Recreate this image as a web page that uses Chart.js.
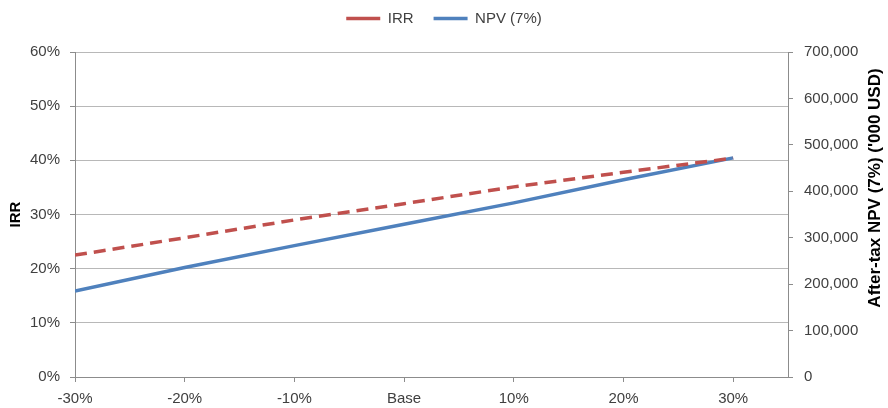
<!DOCTYPE html>
<html>
<head>
<meta charset="utf-8">
<script src="https://cdn.jsdelivr.net/npm/chart.js@4/dist/chart.umd.min.js"></script>
<style>
  html, body { margin: 0; padding: 0; background: #fff; }
  #wrap { width: 888px; height: 408px; }
</style>
</head>
<body>
<div id="wrap"><canvas id="chart" width="888" height="408"></canvas></div>
<script>
// sensitivity steps (percent change from base case)
const sensitivity = [-30, -20, -10, 0, 10, 20, 30];
// IRR in percent
const irrValues = [22.5, 25.7, 29.0, 32.0, 35.1, 37.8, 40.4];
// after-tax NPV at 7%, '000 USD
const npvValues = [185000, 236000, 283000, 329000, 375000, 425000, 472000];

const rightTitle = "After-tax NPV (7%) ('000 USD)";

const textColor = "#404040";
const axisColor = "#8c8c8c";
const gridColor = "#b8b8b8";
const fontFamily = "'Liberation Sans', Arial, sans-serif";
const font = { family: fontFamily, size: 15 };
const titleFont = { family: fontFamily, size: 15, weight: "bold" };

// fixed legend box height so the plot area starts where the reference's does
const legendHeight = {
  id: "legendHeight",
  beforeInit(chart) {
    const fit = chart.legend.fit;
    chart.legend.fit = function () {
      fit.bind(chart.legend)();
      this.height = 61;
    };
  },
};

// right axis title reads bottom-to-top like Excel, so draw it ourselves
const rightAxisTitle = {
  id: "rightAxisTitle",
  afterDraw(chart) {
    const c = chart.ctx;
    c.save();
    c.translate(875, 188);
    c.rotate(-Math.PI / 2);
    c.font = "bold 17px " + fontFamily;
    c.fillStyle = "#000";
    c.textAlign = "center";
    c.textBaseline = "middle";
    c.fillText(rightTitle, 0, 0);
    c.restore();
  },
};

const ctx = document.getElementById("chart").getContext("2d");

new Chart(ctx, {
  type: "line",
  data: {
    datasets: [
      {
        label: "IRR",
        data: sensitivity.map((s, i) => ({ x: s, y: irrValues[i] })),
        yAxisID: "y",
        borderColor: "#C0504D",
        backgroundColor: "#C0504D",
        borderWidth: 3.5,
        borderDash: [12, 7],
        pointRadius: 0,
        pointStyle: "line",
        tension: 0,
      },
      {
        label: "NPV (7%)",
        data: sensitivity.map((s, i) => ({ x: s, y: npvValues[i] })),
        yAxisID: "y1",
        borderColor: "#4F81BD",
        backgroundColor: "#4F81BD",
        borderWidth: 3.5,
        pointRadius: 0,
        pointStyle: "line",
        tension: 0,
      },
    ],
  },
  plugins: [legendHeight, rightAxisTitle],
  options: {
    responsive: false,
    animation: false,
    layout: { padding: { top: -9, left: 0, right: 0, bottom: 0 } },
    plugins: {
      legend: {
        position: "top",
        labels: {
          usePointStyle: true,
          pointStyle: "line",
          pointStyleWidth: 34,
          padding: 20,
          color: textColor,
          font: font,
        },
      },
      tooltip: { enabled: false },
    },
    scales: {
      x: {
        type: "linear",
        min: -30,
        max: 35,
        border: { color: axisColor, width: 1 },
        grid: { drawOnChartArea: false, tickLength: 5, tickColor: axisColor },
        ticks: {
          stepSize: 10,
          includeBounds: false,
          padding: 8,
          color: textColor,
          font: font,
          maxRotation: 0,
          callback: (v) => (v === 0 ? "Base" : v + "%"),
        },
        afterFit: (scale) => { scale.height = 31; },
      },
      y: {
        position: "left",
        min: 0,
        max: 60,
        border: { color: axisColor, width: 1 },
        grid: { color: gridColor, tickLength: 5, tickColor: axisColor },
        ticks: {
          stepSize: 10,
          padding: 10,
          color: textColor,
          font: font,
          callback: (v) => v + "%",
        },
        title: { display: true, text: "IRR", color: "#000", font: titleFont, padding: { top: 7, bottom: 0 } },
        afterFit: (scale) => { scale.width = 75; },
      },
      y1: {
        position: "right",
        min: 0,
        max: 700000,
        border: { color: axisColor, width: 1 },
        grid: { drawOnChartArea: false, tickLength: 5, tickColor: axisColor },
        ticks: {
          stepSize: 100000,
          padding: 11,
          color: textColor,
          font: font,
          callback: (v) => v.toLocaleString("en-US"),
        },
        afterFit: (scale) => { scale.width = 100; },
      },
    },
  },
});
</script>
</body>
</html>
